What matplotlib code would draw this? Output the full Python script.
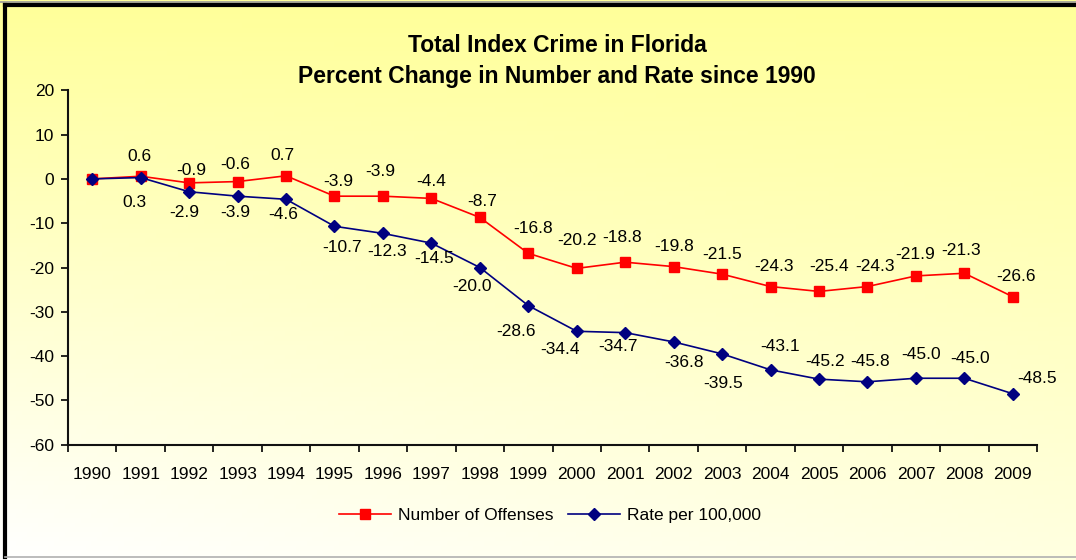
import numpy as np
import matplotlib
matplotlib.use("Agg")
import matplotlib.pyplot as plt
from matplotlib.lines import Line2D

plt.rcParams['font.family'] = ['Liberation Sans', 'DejaVu Sans']
plt.rcParams['axes.unicode_minus'] = False

# --- data ---
years = [str(y) for y in range(1990, 2010)]
offenses = [0.0, 0.6, -0.9, -0.6, 0.7, -3.9, -3.9, -4.4, -8.7, -16.8,
            -20.2, -18.8, -19.8, -21.5, -24.3, -25.4, -24.3, -21.9, -21.3, -26.6]
rate = [0.0, 0.3, -2.9, -3.9, -4.6, -10.7, -12.3, -14.5, -20.0, -28.6,
        -34.4, -34.7, -36.8, -39.5, -43.1, -45.2, -45.8, -45.0, -45.0, -48.5]

# label offsets in pixels (dx right, dy down) relative to each point
off_dx = [0, -1, 2, -2, -4, 4, -3, 0, 2, 5, 0, -3, 0, 0, 3, 10, 8, -1, -3, 3]
off_dy = [0, -20, -12, -17, -20, -15, -25, -17, -16, -25, -28, -25, -20, -20, -20, -25, -20, -21, -23, -20]
rate_dx = [0, -6, -5, -2, -3, 8, 4, 3, -8, -12, -17, -7, 10, 1, 10, 6, 3, 5, 6, 24]
rate_dy = [0, 25, 21, 16, 15, 21, 18, 15, 19, 26, 18, 14, 21, 30, -23, -18, -20, -24, -20, -15]

W, H = 1076, 560
fig = plt.figure(figsize=(W / 100, H / 100), dpi=100)

# background gradient (yellow at top, fading to white lower left)
bg = fig.add_axes([0, 0, 1, 1], zorder=-10)
u = np.linspace(0, 1, 200)[None, :]
v = np.linspace(0, 1, 120)[:, None]
t = np.clip(1.0 - 1.0 * v + 0.3 * u * v, 0, 1)
yellow = np.array([255, 255, 153]) / 255.0
img = (1 - t[..., None]) * np.ones(3) + t[..., None] * yellow
bg.imshow(img, aspect='auto', extent=[0, 1, 0, 1], origin='upper')
bg.set_xlim(0, 1)
bg.set_ylim(0, 1)
bg.axis('off')

# outer frame: thick dark top/left, thin gray bottom
fig.add_artist(Line2D([0, 1], [1 - 1.5 / H, 1 - 1.5 / H], color='#9a9a9a', lw=1.2))
fig.add_artist(Line2D([5 / W, 1], [1 - 5 / H, 1 - 5 / H], color='black', lw=3))
fig.add_artist(Line2D([5 / W, 5 / W], [1 - 5 / H, 3 / H], color='black', lw=3))
fig.add_artist(Line2D([5 / W, 1], [3 / H, 3 / H], color='#b0b0b0', lw=1.2))

ax = fig.add_axes([68 / W, 1 - 444.7 / H, (1037 - 68) / W, (444.7 - 90.3) / H])
ax.patch.set_alpha(0)

x = np.arange(len(years))
ax.plot(x, offenses, color='#FF0000', lw=1.2, marker='s', markersize=7,
        label='Number of Offenses', zorder=3)
ax.plot(x, rate, color='#000080', lw=1.2, marker='D', markersize=6,
        label='Rate per 100,000', zorder=3)

for i in range(1, len(years)):
    ax.annotate(f"{offenses[i]:.1f}", (x[i], offenses[i]),
                xytext=(off_dx[i], -off_dy[i]), textcoords='offset pixels',
                ha='center', va='center', fontsize=12.5)
    ax.annotate(f"{rate[i]:.1f}", (x[i], rate[i]),
                xytext=(rate_dx[i], -rate_dy[i]), textcoords='offset pixels',
                ha='center', va='center', fontsize=12.5)

ax.set_xlim(-0.5, len(years) - 0.5)
ax.set_ylim(-60, 20)
ax.set_yticks(np.arange(-60, 21, 10))
ax.set_xticks(np.arange(-0.5, len(years), 1.0))
ax.set_xticklabels([])
ax.set_xticks(x, minor=True)
ax.set_xticklabels(years, minor=True, fontsize=12.5)
ax.tick_params(axis='x', which='major', length=5, width=1.2, direction='out')
ax.tick_params(axis='x', which='minor', length=0, pad=16)
ax.tick_params(axis='y', length=5, width=1.2, direction='out', labelsize=12.5, pad=5)

for s in ['top', 'right']:
    ax.spines[s].set_visible(False)
for s in ['left', 'bottom']:
    ax.spines[s].set_linewidth(1.5)
    ax.spines[s].set_color('#111111')

fig.text(557 / W, 1 - 46 / H, 'Total Index Crime in Florida', ha='center', va='center',
         fontsize=16.5, fontweight='bold')
fig.text(557 / W, 1 - 77 / H, 'Percent Change in Number and Rate since 1990', ha='center',
         va='center', fontsize=16.5, fontweight='bold')

fig.legend(loc='center', bbox_to_anchor=(550 / W, 1 - 515 / H), ncol=2, frameon=False,
           fontsize=12.5, handlelength=3, columnspacing=0.8, handletextpad=0.4)

fig.savefig('out.png', dpi=100)
